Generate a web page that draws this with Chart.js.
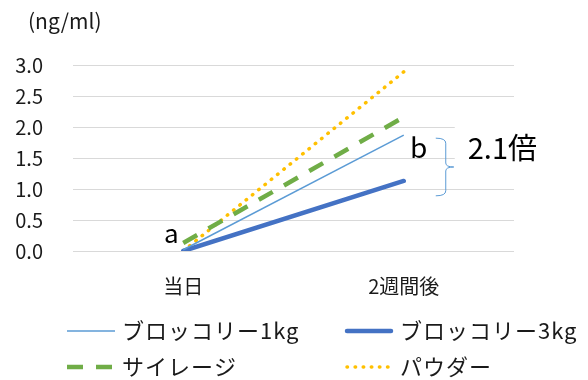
<!DOCTYPE html>
<html lang="ja">
<head>
<meta charset="utf-8">
<script src="https://cdn.jsdelivr.net/npm/chart.js@4/dist/chart.umd.min.js"></script>
<style>
  html, body { margin: 0; padding: 0; background: #fff; }
  #wrap { width: 588px; height: 380px; }
</style>
</head>
<body>
<div id="wrap"><canvas id="c" width="588" height="380"></canvas></div>
<script>
// Time points and measured concentrations (ng/ml)
const categories = ['当日', '2週間後'];
const broccoli1kg = [0.02, 1.87];
const broccoli3kg = [0.0, 1.13];
const silage = [0.13, 2.16];
const powder = [0.0, 2.89];
const seriesNames = ['ブロッコリー1kg', 'ブロッコリー3kg', 'サイレージ', 'パウダー'];
const yTicks = [0, 0.5, 1.0, 1.5, 2.0, 2.5, 3.0];
const unitLabel = '(ng/ml)';
const ratioLabel = '2.1倍';

const FONT = '"Noto Sans CJK JP", "Noto Sans", sans-serif';
const TEXT = '#1a1a1a';

const styles = [
  { color: '#5B9BD5', width: 1.5, dash: [], cap: 'butt' },
  { color: '#4472C4', width: 4.5, dash: [], cap: 'round' },
  { color: '#70AD47', width: 4.5, dash: [16, 13], cap: 'butt' },
  { color: '#FFC000', width: 3.5, dash: [0.5, 7.6], cap: 'round' }
];
const values = [broccoli1kg, broccoli3kg, silage, powder];

const datasets = values.map((v, i) => ({
  label: seriesNames[i],
  data: v,
  borderColor: styles[i].color,
  backgroundColor: styles[i].color,
  borderWidth: styles[i].width,
  borderDash: styles[i].dash,
  borderCapStyle: styles[i].cap,
  pointRadius: 0,
  pointHoverRadius: 0,
  tension: 0,
  fill: false
}));

// Legend in two columns, drawn under the plot
const legendPlugin = {
  id: 'twoColLegend',
  afterDraw(chart) {
    const ctx = chart.ctx;
    const cols = [67, 345];
    const rows = [331, 367];
    ctx.save();
    datasets.forEach((ds, i) => {
      const x = cols[i % 2];
      const y = rows[Math.floor(i / 2)];
      ctx.beginPath();
      ctx.strokeStyle = ds.borderColor;
      ctx.lineWidth = ds.borderWidth;
      ctx.lineCap = ds.borderCapStyle;
      ctx.setLineDash(ds.borderDash);
      const x0 = ds.borderCapStyle === 'round' ? x + 2 : x;
      const x1 = ds.borderCapStyle === 'round' ? x + 46 : x + 48;
      ctx.moveTo(x0, y);
      ctx.lineTo(x1, y);
      ctx.stroke();
      ctx.setLineDash([]);
      ctx.fillStyle = TEXT;
      ctx.font = '22px ' + FONT;
      if ('letterSpacing' in ctx) ctx.letterSpacing = '1px';
      ctx.textAlign = 'left';
      ctx.textBaseline = 'middle';
      ctx.fillText(ds.label, x + 55, y);
      if ('letterSpacing' in ctx) ctx.letterSpacing = '0px';
    });
    ctx.restore();
  }
};

// Unit label, significance letters and the ratio bracket
const notesPlugin = {
  id: 'notes',
  afterDraw(chart) {
    const ctx = chart.ctx;
    const xs = chart.scales.x;
    const ys = chart.scales.y;
    const day0 = xs.getPixelForValue(0);
    const week2 = xs.getPixelForValue(1);
    ctx.save();

    ctx.fillStyle = TEXT;
    ctx.font = '21px ' + FONT;
    ctx.textAlign = 'left';
    ctx.textBaseline = 'middle';
    ctx.fillText(unitLabel, 28, 21);

    // text box behind the ratio label
    ctx.fillStyle = '#fff';
    ctx.fillRect(week2 + 51, ys.getPixelForValue(2.25), 70, ys.getPixelForValue(1.3) - ys.getPixelForValue(2.25));

    ctx.fillStyle = '#000';
    ctx.font = '26px ' + FONT;
    ctx.textAlign = 'center';
    ctx.textBaseline = 'middle';
    ctx.fillText('a', day0 - 12, ys.getPixelForValue(0.29));
    ctx.font = '28px ' + FONT;
    ctx.fillText('b', week2 + 15, ys.getPixelForValue(1.67));

    ctx.font = '29px ' + FONT;
    ctx.textAlign = 'left';
    ctx.fillText(ratioLabel, week2 + 64, ys.getPixelForValue(1.66));

    // right curly brace
    const top = ys.getPixelForValue(1.82);
    const bot = ys.getPixelForValue(0.89);
    const mid = (top + bot) / 2;
    const xl = week2 + 32, xc = week2 + 42, xr = week2 + 50;
    ctx.strokeStyle = '#5B9BD5';
    ctx.lineWidth = 1;
    ctx.beginPath();
    ctx.moveTo(xl, top);
    ctx.quadraticCurveTo(xc, top, xc, top + 5);
    ctx.lineTo(xc, mid - 4);
    ctx.quadraticCurveTo(xc, mid, xr, mid);
    ctx.quadraticCurveTo(xc, mid, xc, mid + 4);
    ctx.lineTo(xc, bot - 5);
    ctx.quadraticCurveTo(xc, bot, xl, bot);
    ctx.stroke();
    ctx.restore();
  }
};

new Chart(document.getElementById('c'), {
  type: 'line',
  data: { labels: categories, datasets },
  options: {
    responsive: false,
    devicePixelRatio: 1,
    animation: false,
    layout: { padding: { top: 65, left: 0, right: 74, bottom: 80 } },
    plugins: {
      legend: { display: false },
      tooltip: { enabled: false }
    },
    scales: {
      x: {
        type: 'category',
        offset: true,
        grid: { display: false, drawTicks: false },
        border: { display: false },
        ticks: { color: TEXT, font: { family: FONT, size: 20 }, padding: 23, maxRotation: 0 },
        afterFit(s) { s.height = 49; }
      },
      y: {
        min: 0,
        max: 3,
        afterBuildTicks(s) { s.ticks = yTicks.map(v => ({ value: v })); },
        grid: { color: '#D9D9D9', lineWidth: 1, drawTicks: false },
        border: { display: false },
        ticks: {
          color: TEXT,
          font: { family: FONT, size: 20 },
          padding: 30,
          callback: v => Number(v).toFixed(1)
        },
        afterFit(s) { s.width = 73; }
      }
    }
  },
  plugins: [legendPlugin, notesPlugin]
});
</script>
</body>
</html>
